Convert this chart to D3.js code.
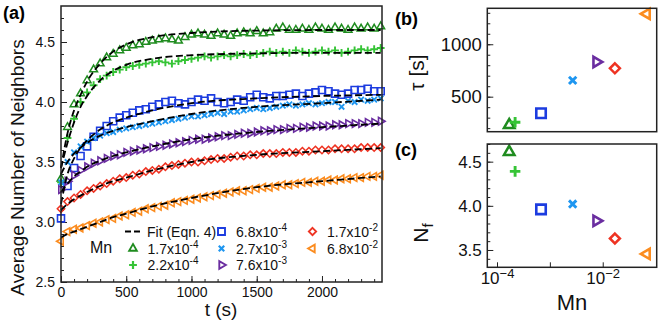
<!DOCTYPE html>
<html>
<head>
<meta charset="utf-8">
<script src="https://cdn.jsdelivr.net/npm/d3@7"></script>
<style>
  body { margin: 0; background: #fff; }
  svg { display: block; font-family: "Liberation Sans", Arial, Helvetica, sans-serif; }
</style>
</head>
<body>
<div id="chart"></div>
<script>
const times = d3.range(0, 2451, 50);
const fitTimes = [0, 50, 100, 150, 200, 300, 400, 500, 700, 1000, 1500, 2000, 2450];

// Mn concentrations
const mnValues = [1.7e-4, 2.2e-4, 6.8e-4, 2.7e-3, 7.6e-3, 1.7e-2, 6.8e-2];
const mnMantissa = ['1.7', '2.2', '6.8', '2.7', '7.6', '1.7', '6.8'];
const mnExponent = ['-4', '-4', '-4', '-3', '-3', '-2', '-2'];

// fit parameters, panels (b) and (c)
const tauValues = [230, 256, 342, 656, 831, 771, 1290];
const nfValues = [4.61, 4.39, 3.96, 4.02, 3.83, 3.63, 3.455];

// average number of neighbors vs time, panel (a)
const n17e4 = [3.36,3.79,3.98,4.07,4.18,4.27,4.32,4.37,4.40,4.43,
  4.45,4.47,4.48,4.50,4.51,4.52,4.53,4.52,4.51,4.54,
  4.56,4.57,4.56,4.55,4.57,4.56,4.55,4.57,4.58,4.57,
  4.59,4.57,4.58,4.61,4.62,4.60,4.60,4.61,4.60,4.62,
  4.61,4.60,4.62,4.61,4.60,4.62,4.61,4.62,4.61,4.63];
const n22e4 = [3.33,3.70,3.86,4.00,4.08,4.14,4.19,4.22,4.25,4.27,
  4.29,4.30,4.31,4.32,4.33,4.34,4.33,4.32,4.34,4.35,
  4.36,4.37,4.38,4.37,4.38,4.39,4.38,4.39,4.40,4.39,
  4.40,4.41,4.42,4.41,4.42,4.41,4.43,4.42,4.41,4.42,
  4.43,4.42,4.43,4.41,4.42,4.43,4.44,4.43,4.44,4.45];
const n68e4 = [3.03,3.30,3.45,3.55,3.63,3.71,3.76,3.80,3.84,3.87,
  3.89,3.91,3.93,3.94,3.96,3.98,4.00,4.01,3.99,3.98,
  4.00,4.02,4.01,4.03,4.00,3.99,4.00,4.02,4.01,4.04,
  4.06,4.04,4.03,4.05,4.05,4.06,4.07,4.05,4.07,4.08,
  4.10,4.09,4.07,4.06,4.07,4.10,4.10,4.11,4.09,4.09];
const n27e3 = [3.33,3.50,3.58,3.63,3.67,3.70,3.72,3.74,3.75,3.77,
  3.78,3.79,3.80,3.81,3.82,3.83,3.84,3.85,3.86,3.87,
  3.88,3.88,3.89,3.90,3.91,3.90,3.92,3.92,3.93,3.94,
  3.95,3.94,3.95,3.96,3.97,3.98,3.97,3.98,3.99,3.98,
  3.99,4.00,4.00,3.96,4.01,4.00,4.02,4.01,4.02,4.03];
const n76e3 = [3.27,3.34,3.39,3.43,3.46,3.49,3.51,3.53,3.55,3.56,
  3.58,3.59,3.60,3.61,3.62,3.63,3.64,3.65,3.66,3.67,
  3.68,3.69,3.69,3.70,3.71,3.72,3.72,3.73,3.74,3.74,
  3.75,3.76,3.76,3.77,3.77,3.78,3.78,3.79,3.79,3.80,
  3.80,3.80,3.81,3.81,3.82,3.82,3.82,3.83,3.83,3.84];
const n17e2 = [3.11,3.17,3.20,3.23,3.26,3.28,3.30,3.32,3.34,3.36,
  3.37,3.39,3.40,3.42,3.43,3.44,3.46,3.47,3.48,3.49,
  3.50,3.50,3.51,3.52,3.53,3.53,3.54,3.55,3.55,3.56,
  3.56,3.57,3.57,3.57,3.58,3.58,3.58,3.59,3.59,3.60,
  3.60,3.60,3.61,3.61,3.61,3.61,3.62,3.62,3.62,3.62];
const n68e2 = [2.84,2.92,2.94,2.95,2.97,2.99,3.00,3.02,3.03,3.05,
  3.06,3.08,3.09,3.11,3.12,3.13,3.14,3.16,3.17,3.18,
  3.19,3.20,3.21,3.22,3.23,3.24,3.25,3.26,3.26,3.27,
  3.28,3.29,3.29,3.30,3.31,3.31,3.32,3.33,3.33,3.34,
  3.34,3.35,3.35,3.36,3.36,3.37,3.37,3.38,3.38,3.39];

// fit curves (Eqn. 4), read at fitTimes
const fit17e4 = [3.45,3.74,3.93,4.06,4.17,4.32,4.42,4.48,4.54,4.575,4.595,4.60,4.60];
const fit22e4 = [3.45,3.66,3.83,3.96,4.05,4.18,4.26,4.31,4.36,4.39,4.405,4.41,4.41];
const fit68e4 = [3.15,3.40,3.53,3.62,3.68,3.77,3.83,3.87,3.93,3.99,4.03,4.05,4.06];
const fit27e3 = [3.40,3.50,3.57,3.62,3.66,3.72,3.76,3.79,3.84,3.90,3.96,3.99,4.02];
const fit76e3 = [3.25,3.32,3.38,3.42,3.46,3.51,3.55,3.58,3.63,3.69,3.75,3.79,3.82];
const fit17e2 = [3.10,3.15,3.19,3.22,3.25,3.30,3.34,3.37,3.43,3.50,3.56,3.59,3.615];
const fit68e2 = [2.87,2.90,2.92,2.94,2.96,3.00,3.04,3.07,3.13,3.20,3.29,3.34,3.38];

const seriesData = [n17e4, n22e4, n68e4, n27e3, n76e3, n17e2, n68e2];
const fitData = [fit17e4, fit22e4, fit68e4, fit27e3, fit76e3, fit17e2, fit68e2];

// styles
const shapes = ['triUp', 'plus', 'square', 'cross', 'triRight', 'diamond', 'triLeft'];
const colors = ['#1f8c1f', '#36c436', '#1c3ce0', '#1e96f0', '#6a2da0', '#ee3322', '#fb8c1f'];

function marker(shape, r) {
  const s = 0.866 * r;
  switch (shape) {
    case 'triUp': return `M0,${-r}L${s},${r/2}L${-s},${r/2}Z`;
    case 'triRight': return `M${r},0L${-r/2},${s}L${-r/2},${-s}Z`;
    case 'triLeft': return `M${-r},0L${r/2},${s}L${r/2},${-s}Z`;
    case 'square': return `M${-r},${-r}H${r}V${r}H${-r}Z`;
    case 'diamond': return `M0,${-r}L${r},0L0,${r}L${-r},0Z`;
    case 'plus': return `M${-r},0H${r}M0,${-r}V${r}`;
    case 'cross': return `M${-r*0.8},${-r*0.8}L${r*0.8},${r*0.8}M${-r*0.8},${r*0.8}L${r*0.8},${-r*0.8}`;
  }
}
const markerSize = {triUp: 4.5, plus: 3.9, square: 3.5, cross: 3.4, triRight: 4.4, diamond: 3.7, triLeft: 4.4};
const markerStroke = {triUp: 1.5, plus: 1.9, square: 1.6, cross: 1.9, triRight: 1.6, diamond: 1.5, triLeft: 1.6};

const svg = d3.select('#chart').append('svg')
  .attr('width', 664)
  .attr('height', 327);

function styleAxis(g, size) {
  g.select('.domain').remove();
  g.selectAll('.tick line').attr('stroke', '#222').attr('stroke-width', 1);
  g.attr('font-family', null).attr('font-size', size).selectAll('text').attr('fill', '#111');
}

// ---------- panel (a) ----------
const a = {left: 61, right: 382, top: 6, bottom: 282};
const x = d3.scaleLinear().domain([0, 2460]).range([a.left, a.right]);
const y = d3.scaleLinear().domain([2.5, 4.8]).range([a.bottom, a.top]);

svg.append('g')
  .attr('transform', `translate(0,${a.bottom})`)
  .call(d3.axisBottom(x).tickValues(d3.range(0, 2460, 100)).tickSize(-3).tickFormat(''))
  .call(g => styleAxis(g, 14));
svg.append('g')
  .attr('transform', `translate(0,${a.bottom})`)
  .call(d3.axisBottom(x).tickValues([0, 500, 1000, 1500, 2000]).tickSize(-6).tickPadding(5).tickFormat(d3.format('d')))
  .call(g => styleAxis(g, 14));
svg.append('g')
  .attr('transform', `translate(${a.left},0)`)
  .call(d3.axisLeft(y).tickValues(d3.range(2.6, 4.8, 0.1)).tickSize(-3).tickFormat(''))
  .call(g => styleAxis(g, 14));
svg.append('g')
  .attr('transform', `translate(${a.left},0)`)
  .call(d3.axisLeft(y).tickValues([2.5, 3.0, 3.5, 4.0, 4.5]).tickSize(-6).tickPadding(6).tickFormat(d3.format('.1f')))
  .call(g => styleAxis(g, 14));

const fitLine = d3.line()
  .x((d, i) => x(fitTimes[i]))
  .y(d => y(d))
  .curve(d3.curveMonotoneX);

// data markers
seriesData.forEach((vals, k) => {
  svg.append('g')
    .selectAll('path')
    .data(vals)
    .enter().append('path')
      .attr('transform', (d, i) => `translate(${x(times[i])},${y(d)})`)
      .attr('d', marker(shapes[k], markerSize[shapes[k]]))
      .attr('fill', 'none')
      .attr('stroke', colors[k])
      .attr('stroke-width', markerStroke[shapes[k]]);
});

// fit curves
svg.append('g')
  .selectAll('path')
  .data(fitData)
  .enter().append('path')
    .attr('d', fitLine)
    .attr('fill', 'none')
    .attr('stroke', '#000')
    .attr('stroke-width', 1.8)
    .attr('stroke-dasharray', '7,3.5');

svg.append('rect')
  .attr('x', a.left).attr('y', a.top)
  .attr('width', a.right - a.left).attr('height', a.bottom - a.top)
  .attr('fill', 'none').attr('stroke', '#222').attr('stroke-width', 1.5);

// legend
const legend = svg.append('g').attr('font-size', 14).attr('fill', '#111');
legend.append('line')
  .attr('x1', 125).attr('x2', 143).attr('y1', 231.5).attr('y2', 231.5)
  .attr('stroke', '#000').attr('stroke-width', 1.8).attr('stroke-dasharray', '6,3');
legend.append('text').attr('x', 147).attr('y', 236.5).text('Fit (Eqn. 4)');
legend.append('text').attr('x', 90).attr('y', 253).attr('font-size', 16).text('Mn');

const legendPos = [[133, 253.5], [133, 270], [221.5, 236.5], [221.5, 253.5], [221.5, 270], [312.5, 236.5], [312.5, 253.5]];
mnValues.forEach((m, k) => {
  const [lx, ly] = legendPos[k];
  legend.append('path')
    .attr('transform', `translate(${lx},${ly - 5})`)
    .attr('d', marker(shapes[k], markerSize[shapes[k]]))
    .attr('fill', 'none')
    .attr('stroke', colors[k])
    .attr('stroke-width', markerStroke[shapes[k]] + 0.3);
  const t = legend.append('text').attr('x', lx + 14.5).attr('y', ly);
  t.append('tspan').text(mnMantissa[k] + 'x10');
  t.append('tspan').attr('dy', -6).attr('font-size', 10).text(mnExponent[k]);
});

// axis labels of (a)
svg.append('text')
  .attr('transform', 'translate(23.5,167.5) rotate(-90)')
  .attr('text-anchor', 'middle')
  .attr('font-size', 19)
  .attr('fill', '#111')
  .text('Average Number of Neighbors');
svg.append('text')
  .attr('x', 221).attr('y', 316)
  .attr('text-anchor', 'middle')
  .attr('font-size', 19)
  .attr('fill', '#111')
  .text('t (s)');
svg.append('text')
  .attr('x', 3).attr('y', 18.5)
  .attr('font-size', 18).attr('font-weight', 'bold')
  .text('(a)');

// ---------- panels (b) and (c) ----------
const side = {left: 487.3, right: 656.7};
const xm = d3.scaleLog().domain([6.55e-5, 0.105]).range([side.left, side.right]);

const b = {top: 8.3, bottom: 131.7};
const yb = d3.scaleLinear().domain([166, 1343]).range([b.bottom, b.top]);
const c = {top: 144, bottom: 267.3};
const yc = d3.scaleLinear().domain([3.304, 4.70]).range([c.bottom, c.top]);

svg.append('g')
  .attr('transform', `translate(${side.left},0)`)
  .call(d3.axisLeft(yb).tickValues(d3.range(200, 1301, 100)).tickSize(-3).tickFormat(''))
  .call(g => styleAxis(g, 18.5));
svg.append('g')
  .attr('transform', `translate(${side.left},0)`)
  .call(d3.axisLeft(yb).tickValues([500, 1000]).tickSize(-6).tickPadding(5.5).tickFormat(d3.format('d')))
  .call(g => styleAxis(g, 18.5));

svg.append('g')
  .attr('transform', `translate(${side.left},0)`)
  .call(d3.axisLeft(yc).tickValues(d3.range(3.4, 4.71, 0.1)).tickSize(-3).tickFormat(''))
  .call(g => styleAxis(g, 17));
svg.append('g')
  .attr('transform', `translate(${side.left},0)`)
  .call(d3.axisLeft(yc).tickValues([3.5, 4.0, 4.5]).tickSize(-6).tickPadding(5.5).tickFormat(d3.format('.1f')))
  .call(g => styleAxis(g, 17));

svg.append('g')
  .attr('transform', `translate(0,${c.bottom})`)
  .call(d3.axisBottom(xm).tickValues([1e-4, 1e-3, 1e-2]).tickSize(-5).tickPadding(5).tickFormat(''))
  .call(g => styleAxis(g, 17))
  .call(g => g.selectAll('.tick text').each(function(d) {
    const e = Math.round(Math.log10(d));
    if (e % 2 !== 0) return;
    const t = d3.select(this);
    t.append('tspan').text('10');
    t.append('tspan').attr('dy', '-0.5em').attr('font-size', 13).text('\u2212' + (-e));
  }));

[[b, yb, tauValues], [c, yc, nfValues]].forEach(([p, ys, vals]) => {
  svg.append('g')
    .selectAll('path')
    .data(vals)
    .enter().append('path')
      .attr('transform', (d, k) => `translate(${xm(mnValues[k])},${ys(d)})`)
      .attr('d', (d, k) => marker(shapes[k], markerSize[shapes[k]] * 1.35))
      .attr('fill', 'none')
      .attr('stroke', (d, k) => colors[k])
      .attr('stroke-width', (d, k) => markerStroke[shapes[k]] + 1);
  svg.append('rect')
    .attr('x', side.left).attr('y', p.top)
    .attr('width', side.right - side.left).attr('height', p.bottom - p.top)
    .attr('fill', 'none').attr('stroke', '#222').attr('stroke-width', 1.5);
});

svg.append('text')
  .attr('transform', 'translate(424,72.5) rotate(-90)')
  .attr('text-anchor', 'middle')
  .attr('font-size', 21)
  .attr('fill', '#111')
  .text('\u03c4 [s]');
const nf = svg.append('text')
  .attr('transform', 'translate(428,233) rotate(-90)')
  .attr('text-anchor', 'middle')
  .attr('font-size', 21)
  .attr('fill', '#111');
nf.append('tspan').text('N');
nf.append('tspan').attr('dy', 5).attr('font-size', 15).text('f');
svg.append('text')
  .attr('x', 572).attr('y', 310)
  .attr('text-anchor', 'middle')
  .attr('font-size', 22)
  .attr('fill', '#111')
  .text('Mn');
svg.append('text')
  .attr('x', 395).attr('y', 25)
  .attr('font-size', 18).attr('font-weight', 'bold')
  .text('(b)');
svg.append('text')
  .attr('x', 395).attr('y', 156)
  .attr('font-size', 18).attr('font-weight', 'bold')
  .text('(c)');
</script>
</body>
</html>
